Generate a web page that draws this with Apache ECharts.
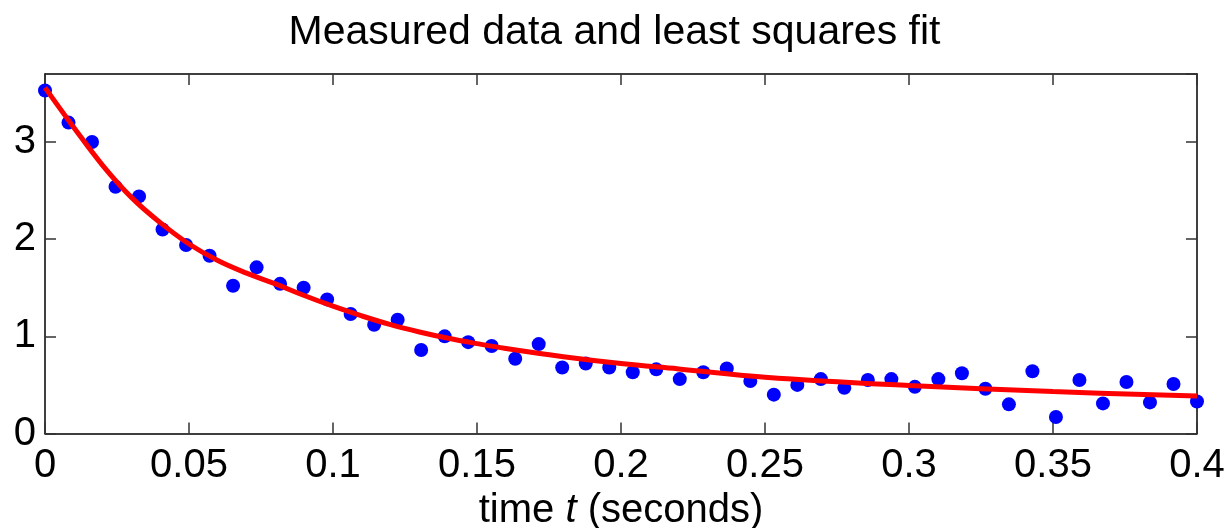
<!DOCTYPE html>
<html>
<head>
<meta charset="utf-8">
<script src="https://cdn.jsdelivr.net/npm/echarts@6/dist/echarts.min.js"></script>
<style>
html,body{margin:0;padding:0;background:#fff;}
#c{width:1229px;height:528px;}
</style>
</head>
<body>
<div id="c"></div>
<script>
// Measured samples (time in seconds)
const tMeasured = [0, 0.00816, 0.01633, 0.02449, 0.03265, 0.04082, 0.04898, 0.05714, 0.06531, 0.07347,
  0.08163, 0.08980, 0.09796, 0.10612, 0.11429, 0.12245, 0.13061, 0.13878, 0.14694, 0.15510,
  0.16327, 0.17143, 0.17959, 0.18776, 0.19592, 0.20408, 0.21224, 0.22041, 0.22857, 0.23673,
  0.24490, 0.25306, 0.26122, 0.26939, 0.27755, 0.28571, 0.29388, 0.30204, 0.31020, 0.31837,
  0.32653, 0.33469, 0.34286, 0.35102, 0.35918, 0.36735, 0.37551, 0.38367, 0.39184, 0.40000];
const yMeasured = [3.53, 3.20, 3.00, 2.54, 2.44, 2.10, 1.94, 1.83, 1.52, 1.71,
  1.54, 1.50, 1.38, 1.23, 1.12, 1.17, 0.86, 1.00, 0.94, 0.90,
  0.77, 0.92, 0.68, 0.72, 0.68, 0.63, 0.66, 0.56, 0.63, 0.67,
  0.54, 0.40, 0.50, 0.56, 0.47, 0.55, 0.56, 0.48, 0.56, 0.62,
  0.46, 0.30, 0.64, 0.17, 0.55, 0.31, 0.53, 0.32, 0.51, 0.33];

// Least squares fit curve
const tFit = [0, 0.01, 0.02, 0.03, 0.04, 0.05, 0.06, 0.07, 0.08, 0.09, 0.10, 0.11, 0.12, 0.13, 0.14, 0.15,
  0.16, 0.18, 0.20, 0.22, 0.25, 0.30, 0.35, 0.40];
const yFit = [3.56, 3.15, 2.76, 2.43, 2.17, 1.95, 1.78, 1.65, 1.54, 1.42, 1.31, 1.21, 1.12, 1.045, 0.98, 0.925,
  0.875, 0.79, 0.72, 0.665, 0.58, 0.495, 0.432, 0.385];

const xTicks = [0, 0.05, 0.1, 0.15, 0.2, 0.25, 0.3, 0.35, 0.4];
const yTicks = [0, 1, 2, 3];

const FONT = 'Liberation Sans, Arial, Helvetica, sans-serif';
const FS = 40;

const chart = echarts.init(document.getElementById('c'), null, {renderer: 'canvas'});

const axisLineStyle = {show: true, onZero: false, lineStyle: {color: '#000', width: 1.5}};
const tickStyle = {show: true, inside: true, length: 11, lineStyle: {color: '#333', width: 1.5}};

chart.setOption({
  animation: false,
  backgroundColor: '#fff',
  title: {
    text: 'Measured data and least squares fit',
    left: 'center',
    top: 7,
    textStyle: {fontFamily: FONT, fontSize: 41, fontWeight: 'normal', color: '#000'}
  },
  grid: {left: 45, right: 32, top: 74, bottom: 94.5, containLabel: false, outerBoundsMode: 'none'},
  xAxis: [
    {
      type: 'value', position: 'bottom', min: 0, max: 0.4, interval: 0.05,
      axisLine: axisLineStyle, axisTick: tickStyle, splitLine: {show: false},
      axisLabel: {
        fontFamily: FONT, fontSize: FS, color: '#000', margin: 12,
        formatter: function (v) { return xTicks.indexOf(+v.toFixed(2)) >= 0 ? String(+v.toFixed(2)) : ''; }
      },
      name: '{n|time }{i|t}{n| (seconds)}',
      nameLocation: 'middle', nameGap: 57,
      nameTextStyle: {
        fontFamily: FONT, fontSize: FS, color: '#000',
        rich: {
          n: {fontFamily: FONT, fontSize: FS, color: '#000'},
          i: {fontFamily: FONT, fontSize: FS, color: '#000', fontStyle: 'italic'}
        }
      }
    },
    {
      type: 'value', position: 'top', min: 0, max: 0.4, interval: 0.05,
      axisLine: axisLineStyle, axisTick: tickStyle, splitLine: {show: false},
      axisLabel: {show: false}
    }
  ],
  yAxis: [
    {
      type: 'value', position: 'left', min: 0, max: 3.7, interval: 1,
      axisLine: axisLineStyle, axisTick: tickStyle, splitLine: {show: false},
      axisLabel: {
        fontFamily: FONT, fontSize: FS, color: '#000', margin: 9, showMaxLabel: false,
        formatter: function (v) { return yTicks.indexOf(v) >= 0 ? String(v) : ''; }
      }
    },
    {
      type: 'value', position: 'right', min: 0, max: 3.7, interval: 1,
      axisLine: axisLineStyle, axisTick: tickStyle, splitLine: {show: false},
      axisLabel: {show: false}
    }
  ],
  series: [
    {
      type: 'scatter',
      data: tMeasured.map((t, i) => [t, yMeasured[i]]),
      symbol: 'circle', symbolSize: 14,
      itemStyle: {color: '#0000ff', opacity: 1},
      z: 2
    },
    {
      type: 'line',
      data: tFit.map((t, i) => [t, yFit[i]]),
      smooth: 0.4,
      showSymbol: false,
      lineStyle: {color: '#ff0000', width: 5},
      z: 3
    }
  ]
});
</script>
</body>
</html>
